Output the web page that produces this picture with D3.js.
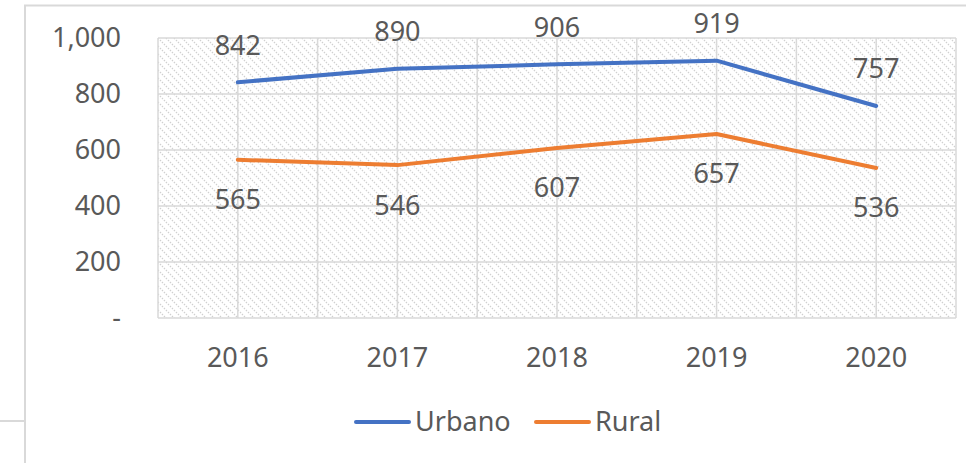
<!DOCTYPE html>
<html>
<head>
<meta charset="utf-8">
<script src="https://cdnjs.cloudflare.com/ajax/libs/d3/7.8.5/d3.min.js"></script>
<style>
  html, body { margin: 0; padding: 0; background: #fff; }
  svg { display: block; }
  text { font-family: "Noto Sans", "Open Sans", sans-serif; fill: #595959; }
</style>
</head>
<body>
<div id="chart"></div>
<script>
// chart data
var years = ['2016', '2017', '2018', '2019', '2020']
var urbano = [842, 890, 906, 919, 757]
var rural = [565, 546, 607, 657, 536]
var yTicks = [0, 200, 400, 600, 800, 1000]
var seriesNames = ['Urbano', 'Rural']

var W = 966, H = 463
var margin = { left: 158, right: 10, top: 38, bottom: 145 }
var fontSize = 27

var svg = d3.select('#chart').append('svg')
  .attr('width', W)
  .attr('height', H)

// hatch pattern for the plot area
var defs = svg.append('defs')
var pat = defs.append('pattern')
  .attr('id', 'hatch')
  .attr('patternUnits', 'userSpaceOnUse')
  .attr('width', 8)
  .attr('height', 8)
pat.append('path')
  .attr('d', 'M0,0 L8,8 M-1,7 L1,9 M7,-1 L9,1')
  .attr('stroke', '#d0d0d0')
  .attr('stroke-width', 1.3)
  .attr('stroke-dasharray', '1.4,1.4')

// chart area frame (partially visible)
svg.append('path')
  .attr('d', 'M25,463 L25,5.5 L966,5.5 M0,421 L25,421')
  .attr('fill', 'none')
  .attr('stroke', '#d9d9d9')
  .attr('stroke-width', 2)

var x = d3.scaleBand()
  .domain(years)
  .range([margin.left, W - margin.right])
var y = d3.scaleLinear()
  .domain([0, 1000])
  .range([H - margin.bottom, margin.top])

function cx(d) { return x(d) + x.bandwidth() / 2 }

var plot = svg.append('g')

plot.append('rect')
  .attr('x', x.range()[0])
  .attr('y', y(1000))
  .attr('width', x.range()[1] - x.range()[0])
  .attr('height', y(0) - y(1000))
  .attr('fill', 'url(#hatch)')

// horizontal gridlines
plot.selectAll('.hgrid')
  .data(yTicks)
  .enter().append('line')
  .attr('x1', x.range()[0])
  .attr('x2', x.range()[1])
  .attr('y1', function (d) { return y(d) })
  .attr('y2', function (d) { return y(d) })
  .attr('stroke', '#d9d9d9')
  .attr('stroke-width', 1.5)

// vertical gridlines at category centres and boundaries
var vlines = []
years.forEach(function (d) {
  vlines.push(x(d))
  vlines.push(cx(d))
})
vlines.push(x.range()[1])
plot.selectAll('.vgrid')
  .data(vlines)
  .enter().append('line')
  .attr('x1', function (d) { return d })
  .attr('x2', function (d) { return d })
  .attr('y1', y(1000))
  .attr('y2', y(0))
  .attr('stroke', '#d9d9d9')
  .attr('stroke-width', 1.5)

// y axis labels
svg.selectAll('.ylab')
  .data(yTicks)
  .enter().append('text')
  .attr('x', 121)
  .attr('y', function (d) { return y(d) })
  .attr('dy', '0.35em')
  .attr('text-anchor', 'end')
  .style('font-size', fontSize + 'px')
  .text(function (d) { return d === 0 ? '-' : d3.format(',')(d) })

// x axis labels
svg.selectAll('.xlab')
  .data(years)
  .enter().append('text')
  .attr('x', cx)
  .attr('y', 358)
  .attr('dy', '0.35em')
  .attr('text-anchor', 'middle')
  .style('font-size', fontSize + 'px')
  .text(function (d) { return d })

var line = d3.line()
  .x(function (d, i) { return cx(years[i]) })
  .y(function (d) { return y(d) })

var series = [
  { name: seriesNames[0], values: urbano, color: '#4472c4', offset: -37 },
  { name: seriesNames[1], values: rural, color: '#ed7d31', offset: 40 }
]

series.forEach(function (s) {
  svg.append('path')
    .datum(s.values)
    .attr('d', line)
    .attr('fill', 'none')
    .attr('stroke', s.color)
    .attr('stroke-width', 4)
    .attr('stroke-linecap', 'round')
    .attr('stroke-linejoin', 'round')

  svg.selectAll(null)
    .data(s.values)
    .enter().append('text')
    .attr('x', function (d, i) { return cx(years[i]) })
    .attr('y', function (d) { return y(d) + s.offset })
    .attr('dy', '0.35em')
    .attr('text-anchor', 'middle')
    .style('font-size', fontSize + 'px')
    .text(function (d) { return d })
})

// legend
var legendPos = [356, 536]
series.forEach(function (s, i) {
  var lx = legendPos[i]
  svg.append('line')
    .attr('x1', lx)
    .attr('x2', lx + 53)
    .attr('y1', 422)
    .attr('y2', 422)
    .attr('stroke', s.color)
    .attr('stroke-width', 4)
    .attr('stroke-linecap', 'round')
  svg.append('text')
    .attr('x', lx + 59)
    .attr('y', 422)
    .attr('dy', '0.35em')
    .style('font-size', fontSize + 'px')
    .text(s.name)
})
</script>
</body>
</html>
